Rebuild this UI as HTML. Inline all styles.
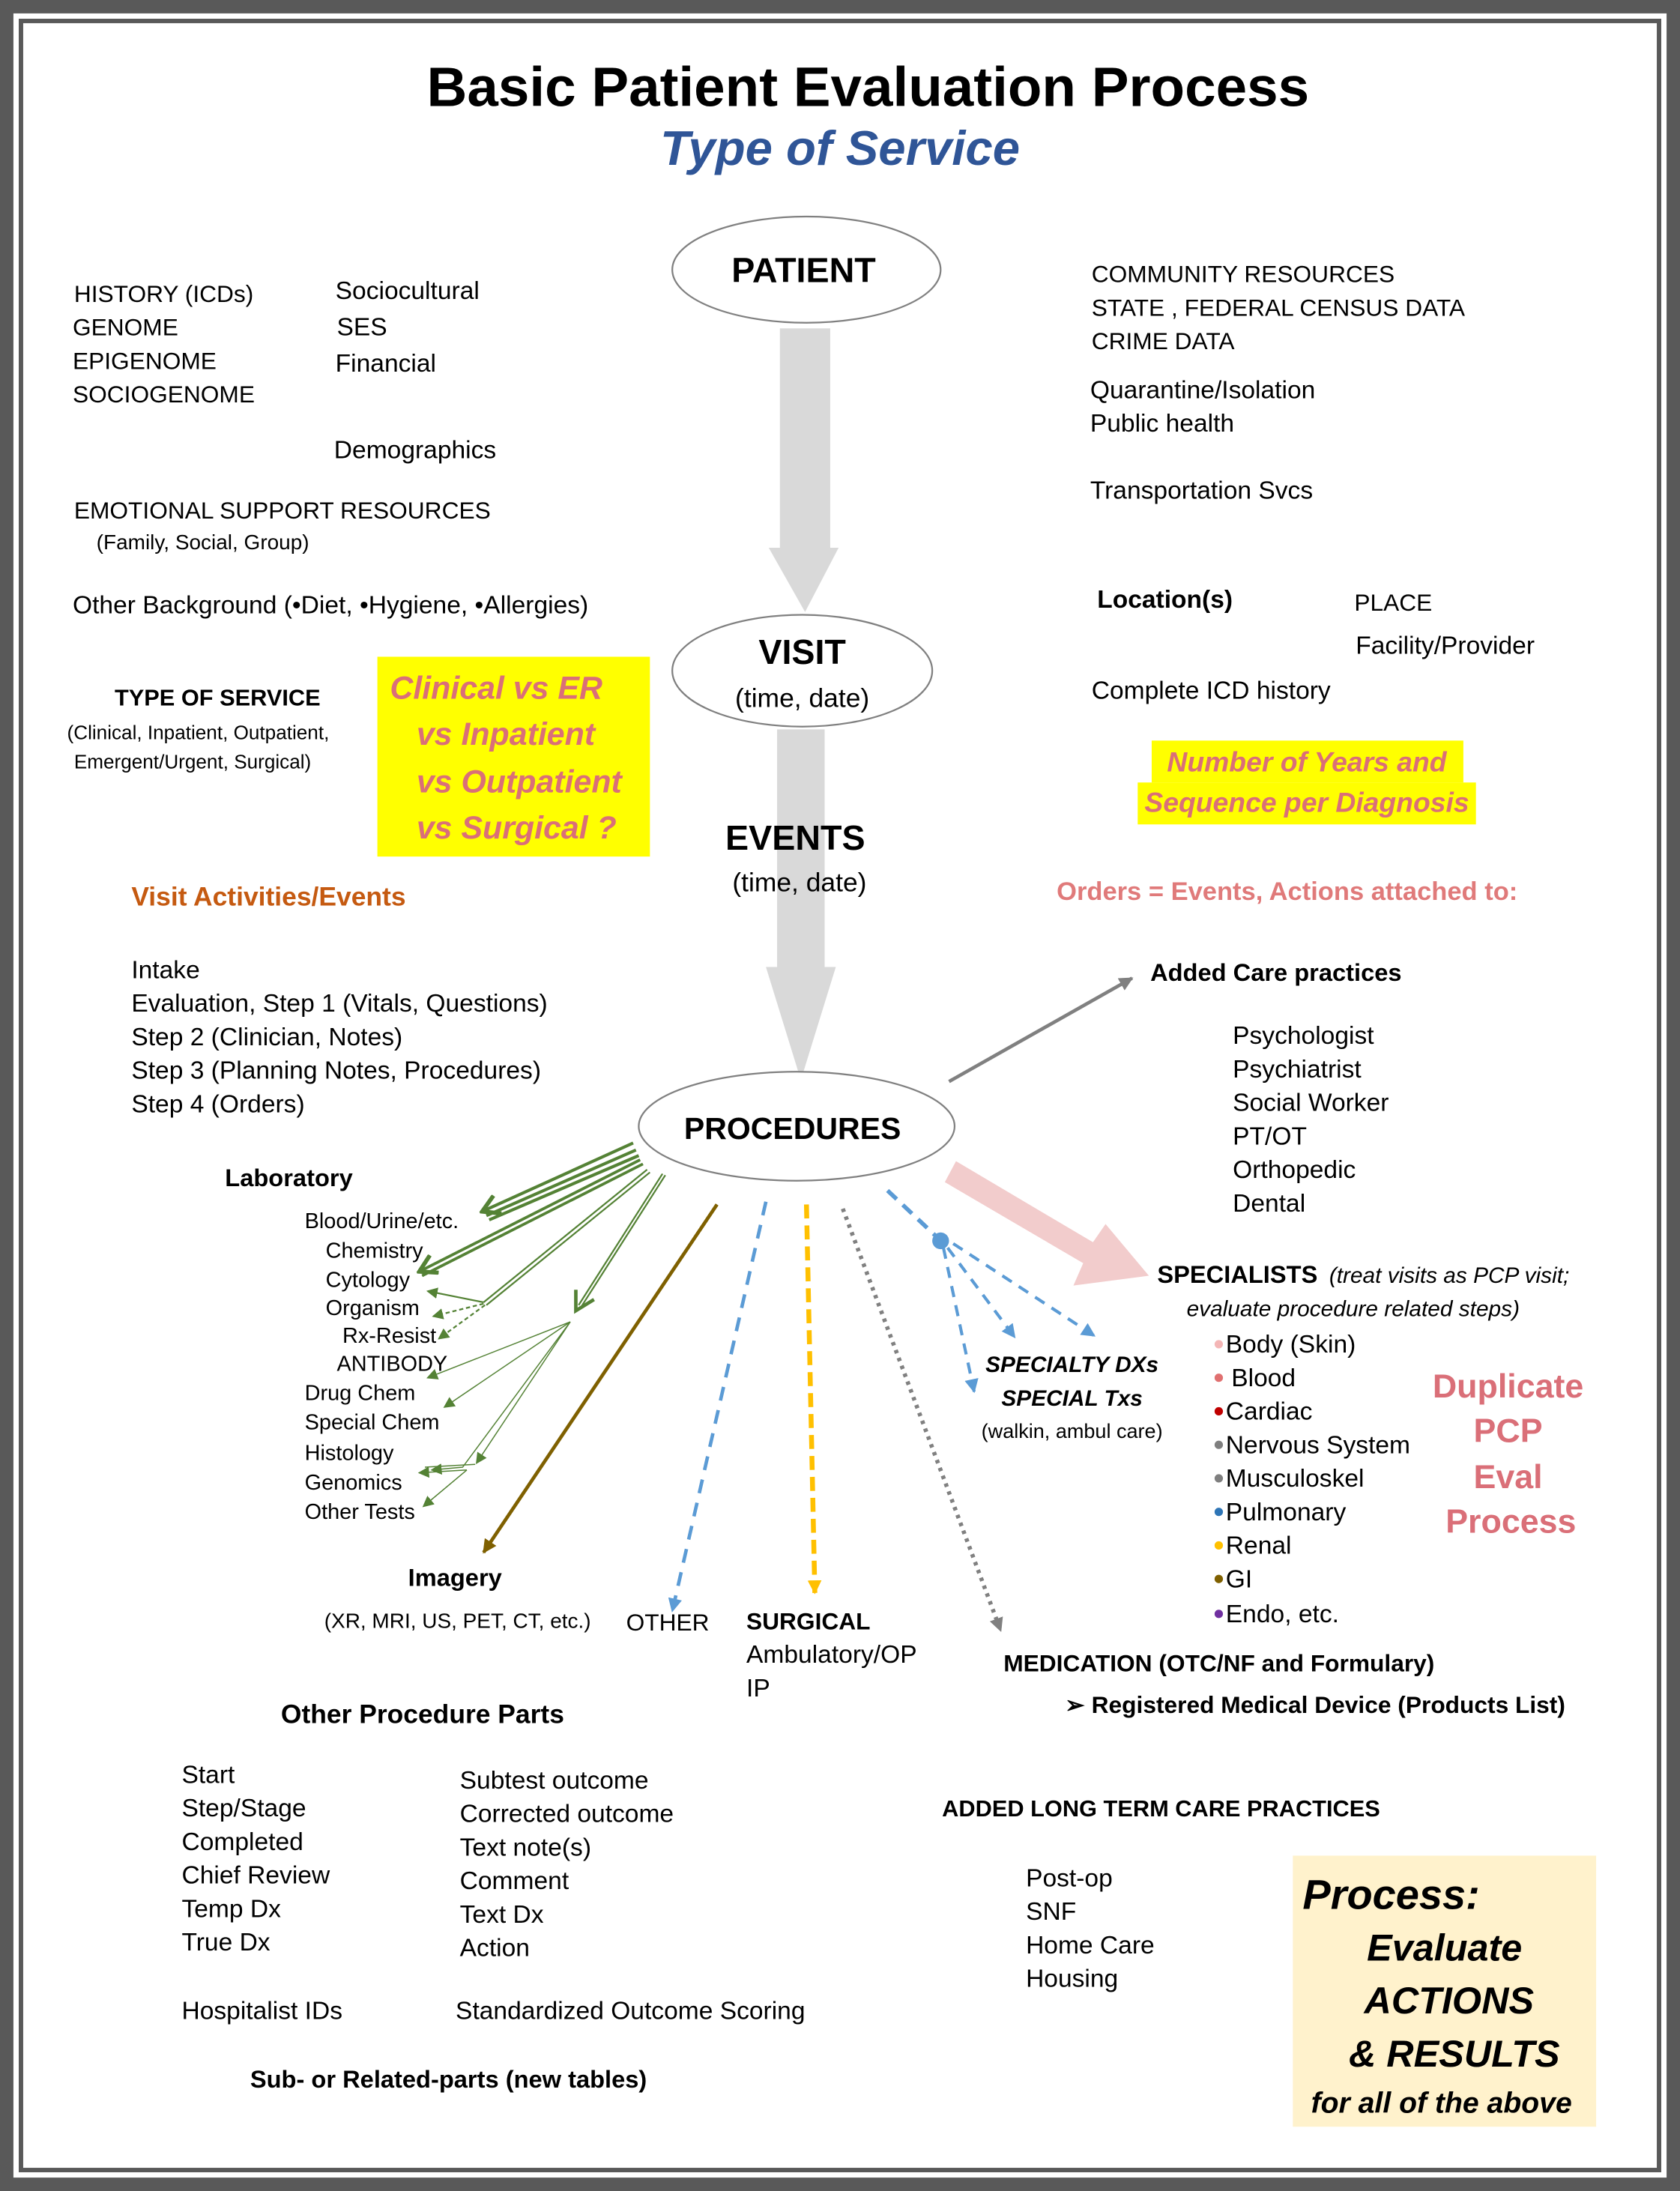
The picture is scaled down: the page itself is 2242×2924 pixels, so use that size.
<!DOCTYPE html>
<html><head><meta charset="utf-8"><style>
html,body{margin:0;padding:0;background:#fff}
svg{display:block}
text{font-family:"Liberation Sans",sans-serif;fill:#000}
.b{font-weight:bold}
.i{font-style:italic}
.pk{fill:#DA6F78}
</style></head><body>
<svg width="2242" height="2924" viewBox="0 0 1202 1568" preserveAspectRatio="none" xmlns="http://www.w3.org/2000/svg">
<defs>
<marker id="ag" markerWidth="8" markerHeight="8" refX="7" refY="4" orient="auto" markerUnits="userSpaceOnUse"><path d="M0,0 L8,4 L0,8 z" fill="#548235"/></marker>
<marker id="agb" markerWidth="16" markerHeight="16" refX="14" refY="8" orient="auto" markerUnits="userSpaceOnUse"><path d="M2,1 L14,8 L2,15" fill="none" stroke="#548235" stroke-width="3"/></marker>
<marker id="ab" markerWidth="10" markerHeight="10" refX="9" refY="5" orient="auto" markerUnits="userSpaceOnUse"><path d="M0,0 L10,5 L0,10 z" fill="#5B9BD5"/></marker>
<marker id="ay" markerWidth="10" markerHeight="10" refX="9" refY="5" orient="auto" markerUnits="userSpaceOnUse"><path d="M0,0 L10,5 L0,10 z" fill="#FFC000"/></marker>
<marker id="agr" markerWidth="10" markerHeight="10" refX="9" refY="5" orient="auto" markerUnits="userSpaceOnUse"><path d="M0,0 L10,5 L0,10 z" fill="#808080"/></marker>
<marker id="abr" markerWidth="10" markerHeight="10" refX="9" refY="5" orient="auto" markerUnits="userSpaceOnUse"><path d="M0,0 L10,5 L0,10 z" fill="#7F6000"/></marker>
</defs>
<rect x="0" y="0" width="1202" height="1568" fill="#595959"/>
<rect x="9.6" y="9.6" width="1182.8" height="1548.8" fill="#fff"/>
<rect x="13.4" y="13.4" width="1175.2" height="1541.2" fill="#595959"/>
<rect x="16.6" y="16.6" width="1168.8" height="1534.8" fill="#fff"/>

<text x="621" y="76" text-anchor="middle" class="b" font-size="40">Basic Patient Evaluation Process</text>
<text x="601" y="118" text-anchor="middle" class="b i" font-size="35" style="fill:#2F5597">Type of Service</text>

<path d="M558,235 L594,235 L594,392 L600,392 L576,438 L550,392 L558,392 z" fill="#D9D9D9"/>
<path d="M556,522 L590,522 L590,692 L598,692 L573,773 L548,692 L556,692 z" fill="#D9D9D9"/>

<ellipse cx="577" cy="193" rx="96" ry="38" fill="#fff" stroke="#808080" stroke-width="1.2"/>
<text x="575" y="202" text-anchor="middle" class="b" font-size="25">PATIENT</text>
<ellipse cx="574" cy="480" rx="93" ry="40" fill="#fff" stroke="#808080" stroke-width="1.2"/>
<text x="574" y="475" text-anchor="middle" class="b" font-size="25">VISIT</text>
<text x="574" y="506" text-anchor="middle" font-size="19">(time, date)</text>
<text x="569" y="608" text-anchor="middle" class="b" font-size="25">EVENTS</text>
<text x="572" y="638" text-anchor="middle" font-size="19">(time, date)</text>
<ellipse cx="570" cy="806" rx="113" ry="39" fill="#fff" stroke="#808080" stroke-width="1.2"/>
<text x="567" y="815" text-anchor="middle" class="b" font-size="22">PROCEDURES</text>

<g font-size="17">
<text x="53" y="216">HISTORY (ICDs)</text>
<text x="52" y="240">GENOME</text>
<text x="52" y="264">EPIGENOME</text>
<text x="52" y="288">SOCIOGENOME</text>
<text x="53" y="371">EMOTIONAL SUPPORT RESOURCES</text>
</g>
<g font-size="18">
<text x="240" y="214">Sociocultural</text>
<text x="241" y="240">SES</text>
<text x="240" y="266">Financial</text>
<text x="239" y="328">Demographics</text>
<text x="52" y="439">Other Background (•Diet, •Hygiene, •Allergies)</text>
</g>
<text x="69" y="393" font-size="15">(Family, Social, Group)</text>
<text x="82" y="505" class="b" font-size="16.5">TYPE OF SERVICE</text>
<text x="48" y="529" font-size="14">(Clinical, Inpatient, Outpatient,</text>
<text x="53" y="550" font-size="14">Emergent/Urgent, Surgical)</text>

<rect x="270" y="470" width="195" height="143" fill="#FFFF00"/>
<g class="b i" font-size="23">
<text x="279" y="500" class="pk">Clinical vs ER</text>
<text x="298" y="533" class="pk">vs Inpatient</text>
<text x="298" y="567" class="pk">vs Outpatient</text>
<text x="298" y="600" class="pk">vs Surgical ?</text>
</g>

<text x="94" y="648" class="b" font-size="19" style="fill:#C55A11">Visit Activities/Events</text>
<g font-size="18">
<text x="94" y="700">Intake</text>
<text x="94" y="724">Evaluation, Step 1 (Vitals, Questions)</text>
<text x="94" y="748">Step 2 (Clinician, Notes)</text>
<text x="94" y="772">Step 3 (Planning Notes, Procedures)</text>
<text x="94" y="796">Step 4 (Orders)</text>
</g>

<g font-size="17">
<text x="781" y="202">COMMUNITY RESOURCES</text>
<text x="781" y="226">STATE , FEDERAL CENSUS DATA</text>
<text x="781" y="250">CRIME DATA</text>
<text x="969" y="437">PLACE</text>
</g>
<g font-size="18">
<text x="780" y="285">Quarantine/Isolation</text>
<text x="780" y="309">Public health</text>
<text x="780" y="357">Transportation Svcs</text>
<text x="970" y="468">Facility/Provider</text>
<text x="781" y="500">Complete ICD history</text>
</g>
<text x="785" y="435" class="b" font-size="18">Location(s)</text>
<rect x="824" y="530" width="223" height="30" fill="#FFFF00"/>
<rect x="814" y="560" width="242" height="30" fill="#FFFF00"/>
<text x="935" y="552" text-anchor="middle" class="b i pk" font-size="20">Number of Years and</text>
<text x="935" y="581" text-anchor="middle" class="b i pk" font-size="20">Sequence per Diagnosis</text>
<text x="756" y="644" class="b pk" font-size="18.5" style="fill:#E07A7A">Orders = Events, Actions attached to:</text>

<line x1="679" y1="774" x2="810" y2="700" stroke="#808080" stroke-width="2.5" marker-end="url(#agr)"/>
<text x="823" y="702" class="b" font-size="17.5">Added Care practices</text>
<g font-size="18">
<text x="882" y="747">Psychologist</text>
<text x="882" y="771">Psychiatrist</text>
<text x="882" y="795">Social Worker</text>
<text x="882" y="819">PT/OT</text>
<text x="882" y="843">Orthopedic</text>
<text x="882" y="867">Dental</text>
</g>

<path d="M684,831 L782,889 L791,876 L822,913 L768,920 L775,904 L676,846 z" fill="#F2CCCC"/>
<text x="828" y="918" class="b" font-size="17.5">SPECIALISTS</text>
<text x="951" y="918" class="i" font-size="16">(treat visits as PCP visit;</text>
<text x="849" y="942" class="i" font-size="16">evaluate procedure related steps)</text>
<g font-size="18">
<circle cx="872" cy="962" r="3" fill="#F4B6B6"/><text x="877" y="968">Body (Skin)</text>
<circle cx="872" cy="986" r="3" fill="#E07070"/><text x="881" y="992">Blood</text>
<circle cx="872" cy="1010" r="3" fill="#C00000"/><text x="877" y="1016">Cardiac</text>
<circle cx="872" cy="1034" r="3" fill="#7F7F7F"/><text x="877" y="1040">Nervous System</text>
<circle cx="872" cy="1058" r="3" fill="#7F7F7F"/><text x="877" y="1064">Musculoskel</text>
<circle cx="872" cy="1082" r="3" fill="#2E75B6"/><text x="877" y="1088">Pulmonary</text>
<circle cx="872" cy="1106" r="3" fill="#FFC000"/><text x="877" y="1112">Renal</text>
<circle cx="872" cy="1130" r="3" fill="#7F6000"/><text x="877" y="1136">GI</text>
<circle cx="872" cy="1155" r="3" fill="#7030A0"/><text x="877" y="1161">Endo, etc.</text>
</g>
<g class="b" font-size="24" text-anchor="middle">
<text x="1079" y="1000" class="pk">Duplicate</text>
<text x="1079" y="1032" class="pk">PCP</text>
<text x="1079" y="1065" class="pk">Eval</text>
<text x="1081" y="1097" class="pk">Process</text>
</g>

<line x1="635" y1="852" x2="670" y2="885" stroke="#5B9BD5" stroke-width="3" stroke-dasharray="9,6"/>
<circle cx="673" cy="888" r="6" fill="#5B9BD5"/>
<line x1="675" y1="893" x2="697" y2="996" stroke="#5B9BD5" stroke-width="2.2" stroke-dasharray="8,6" marker-end="url(#ab)"/>
<line x1="678" y1="893" x2="726" y2="957" stroke="#5B9BD5" stroke-width="2.2" stroke-dasharray="8,6" marker-end="url(#ab)"/>
<line x1="682" y1="890" x2="783" y2="956" stroke="#5B9BD5" stroke-width="2.2" stroke-dasharray="8,6" marker-end="url(#ab)"/>
<text x="767" y="982" text-anchor="middle" class="b i" font-size="16">SPECIALTY DXs</text>
<text x="767" y="1006" text-anchor="middle" class="b i" font-size="16">SPECIAL Txs</text>
<text x="767" y="1029" text-anchor="middle" font-size="14.5">(walkin, ambul care)</text>

<line x1="603" y1="865" x2="716" y2="1167" stroke="#808080" stroke-width="3" stroke-dasharray="2.5,3.5" marker-end="url(#agr)"/>
<line x1="577" y1="862" x2="583" y2="1140" stroke="#FFC000" stroke-width="3.5" stroke-dasharray="10,5" marker-end="url(#ay)"/>
<line x1="548" y1="860" x2="481" y2="1153" stroke="#5B9BD5" stroke-width="2.5" stroke-dasharray="10,7" marker-end="url(#ab)"/>
<line x1="513" y1="862" x2="346" y2="1111" stroke="#7F6000" stroke-width="2.5" marker-end="url(#abr)"/>

<g stroke="#548235" fill="none">
<line x1="453" y1="818" x2="345" y2="867" stroke-width="2.2" marker-end="url(#agb)"/>
<line x1="455" y1="823" x2="348" y2="870" stroke-width="2.2"/>
<line x1="457" y1="827" x2="350" y2="873" stroke-width="2.2"/>
<line x1="458" y1="830" x2="300" y2="910" stroke-width="2" marker-end="url(#agb)"/>
<line x1="460" y1="833" x2="302" y2="913" stroke-width="2"/>
<line x1="463" y1="837" x2="346" y2="932" stroke-width="1.2"/>
<line x1="465" y1="839" x2="348" y2="934" stroke-width="1.2"/>
<line x1="346" y1="932" x2="306" y2="924" stroke-width="1.2" marker-end="url(#ag)"/>
<line x1="346" y1="933" x2="310" y2="942" stroke-width="1.2" stroke-dasharray="3,2" marker-end="url(#ag)"/>
<line x1="347" y1="934" x2="314" y2="958" stroke-width="1.2" stroke-dasharray="3,2" marker-end="url(#ag)"/>
<line x1="474" y1="840" x2="414" y2="934" stroke-width="1.2"/>
<line x1="476" y1="841" x2="416" y2="935" stroke-width="1.2"/>
<path d="M412,923 L412,938 L425,930" stroke-width="2.5"/>
<line x1="408" y1="946" x2="306" y2="986" stroke-width="0.8" marker-end="url(#ag)"/>
<line x1="408" y1="946" x2="318" y2="1007" stroke-width="0.8" marker-end="url(#ag)"/>
<polyline points="408,946 331,1050 309,1052" stroke-width="0.8" marker-end="url(#ag)"/>
<line x1="408" y1="946" x2="341" y2="1047" stroke-width="0.8" marker-end="url(#ag)"/>
<line x1="340" y1="1048" x2="304" y2="1050" stroke-width="0.8"/>
<polyline points="334,1052 300,1054" stroke-width="0.8" marker-end="url(#ag)"/>
<line x1="334" y1="1052" x2="303" y2="1078" stroke-width="0.8" marker-end="url(#ag)"/>
</g>
<text x="161" y="849" class="b" font-size="17.5">Laboratory</text>
<g font-size="15.5">
<text x="218" y="879">Blood/Urine/etc.</text>
<text x="233" y="900">Chemistry</text>
<text x="233" y="921">Cytology</text>
<text x="233" y="941">Organism</text>
<text x="245" y="961">Rx-Resist</text>
<text x="241" y="981">ANTIBODY</text>
<text x="218" y="1002">Drug Chem</text>
<text x="218" y="1023">Special Chem</text>
<text x="218" y="1045">Histology</text>
<text x="218" y="1066">Genomics</text>
<text x="218" y="1087">Other Tests</text>
</g>

<text x="292" y="1135" class="b" font-size="17.5">Imagery</text>
<text x="232" y="1165" font-size="15">(XR, MRI, US, PET, CT, etc.)</text>
<text x="448" y="1167" font-size="17">OTHER</text>
<text x="534" y="1166" class="b" font-size="17">SURGICAL</text>
<text x="534" y="1190" font-size="18">Ambulatory/OP</text>
<text x="534" y="1214" font-size="18">IP</text>
<text x="718" y="1196" class="b" font-size="17">MEDICATION  (OTC/NF and Formulary)</text>
<text x="762" y="1226" class="b" font-size="17">➢  Registered Medical Device (Products List)</text>

<text x="201" y="1233" class="b" font-size="19">Other Procedure Parts</text>
<g font-size="18">
<text x="130" y="1276">Start</text>
<text x="130" y="1300">Step/Stage</text>
<text x="130" y="1324">Completed</text>
<text x="130" y="1348">Chief Review</text>
<text x="130" y="1372">Temp Dx</text>
<text x="130" y="1396">True Dx</text>
<text x="130" y="1445">Hospitalist IDs</text>
<text x="329" y="1280">Subtest outcome</text>
<text x="329" y="1304">Corrected outcome</text>
<text x="329" y="1328">Text note(s)</text>
<text x="329" y="1352">Comment</text>
<text x="329" y="1376">Text Dx</text>
<text x="329" y="1400">Action</text>
<text x="326" y="1445">Standardized Outcome Scoring</text>
<text x="734" y="1350">Post-op</text>
<text x="734" y="1374">SNF</text>
<text x="734" y="1398">Home Care</text>
<text x="734" y="1422">Housing</text>
</g>
<text x="179" y="1494" class="b" font-size="17.5">Sub- or Related-parts (new tables)</text>
<text x="674" y="1300" class="b" font-size="16.5">ADDED LONG TERM CARE PRACTICES</text>

<rect x="925" y="1328" width="217" height="194" fill="#FFF2CC"/>
<g class="b i">
<text x="932" y="1366" font-size="30">Process:</text>
<text x="978" y="1403" font-size="27">Evaluate</text>
<text x="976" y="1441" font-size="27">ACTIONS</text>
<text x="965" y="1479" font-size="27">&amp; RESULTS</text>
<text x="938" y="1512" font-size="21">for all of the above</text>
</g>
</svg>
</body></html>
